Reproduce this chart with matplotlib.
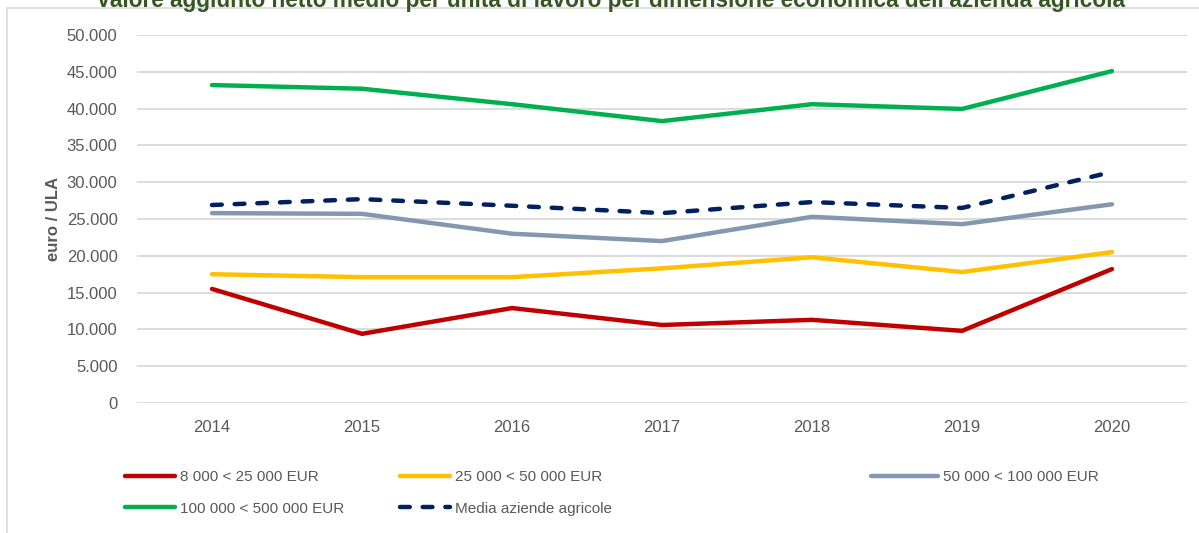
import matplotlib
matplotlib.use("Agg")
import matplotlib.pyplot as plt
from matplotlib.patches import Rectangle
from matplotlib.ticker import FuncFormatter

years = ["2014", "2015", "2016", "2017", "2018", "2019", "2020"]
small = [15500, 9400, 12900, 10600, 11300, 9800, 18200]
medium = [17500, 17100, 17100, 18300, 19800, 17800, 20500]
large = [25800, 25700, 23000, 22000, 25300, 24300, 27000]
xlarge = [43200, 42700, 40600, 38300, 40600, 39950, 45100]
media = [26900, 27700, 26800, 25800, 27300, 26500, 31400]

labels = ["8 000 < 25 000 EUR", "25 000 < 50 000 EUR", "50 000 < 100 000 EUR",
          "100 000 < 500 000 EUR", "Media aziende agricole"]
colors = ["#C00000", "#FFC000", "#8497B0", "#00B050", "#002060"]

plt.rcParams['font.family'] = ['Liberation Sans', 'DejaVu Sans']

fig = plt.figure(figsize=(11.99, 5.33), dpi=100)
W, H = 1199, 533

# chart frame
fig.patches.append(Rectangle((7 / W, -0.1), 1.2, 1 - 8 / H + 0.1, transform=fig.transFigure,
                             fill=False, edgecolor="#d9d9d9", linewidth=1.2))

ax = fig.add_axes([137 / W, 1 - 403 / H, 1050 / W, 368 / H])
x = list(range(len(years)))
series = [small, medium, large, xlarge]
handles = []
for vals, c, lab in zip(series, colors[:4], labels[:4]):
    h, = ax.plot(x, vals, color=c, linewidth=3.2, solid_capstyle='round', label=lab, zorder=3)
    handles.append(h)
h, = ax.plot(x, media, color=colors[4], linewidth=3.2, linestyle=(0, (2.2, 2.9)),
             dash_capstyle='round', label=labels[4], zorder=4)
handles.append(h)

ax.set_xlim(-0.5, 6.5)
ax.set_ylim(0, 50000)
ax.set_yticks(range(0, 50001, 5000))
ax.yaxis.set_major_formatter(FuncFormatter(lambda v, p: f"{int(v):,}".replace(",", ".")))
ax.set_xticks(x)
ax.set_xticklabels(years)
ax.grid(axis='y', color="#d9d9d9", linewidth=1.3)
ax.set_axisbelow(True)
for s in ax.spines.values():
    s.set_visible(False)
ax.tick_params(axis='both', length=0, labelsize=12, labelcolor="#595959", pad=14)
ax.tick_params(axis='x', pad=12)
ax.set_ylabel("euro / ULA", fontsize=12, fontweight='bold', color="#595959", labelpad=4)

fig.text(610 / W, 1.0, "Valore aggiunto netto medio per unità di lavoro per dimensione economica dell'azienda agricola",
         ha='center', va='center', fontsize=16.3, fontweight='bold', color="#375623")

# legend, three columns placed by hand
def leg(hs, x0, hl):
    lg = fig.legend(handles=hs, labels=[hh.get_label() for hh in hs], loc='upper left',
                    bbox_to_anchor=(x0 / W, 1 - 470 / H), frameon=False, fontsize=11,
                    labelcolor="#595959", handlelength=hl, handletextpad=0.33,
                    labelspacing=1.15, borderpad=0, borderaxespad=0)
    return lg

leg([handles[0], handles[3]], 125, 3.3)
leg([handles[1], handles[4]], 400, 3.3)
leg([handles[2]], 871, 4.4)

fig.savefig("out.png", dpi=100)
